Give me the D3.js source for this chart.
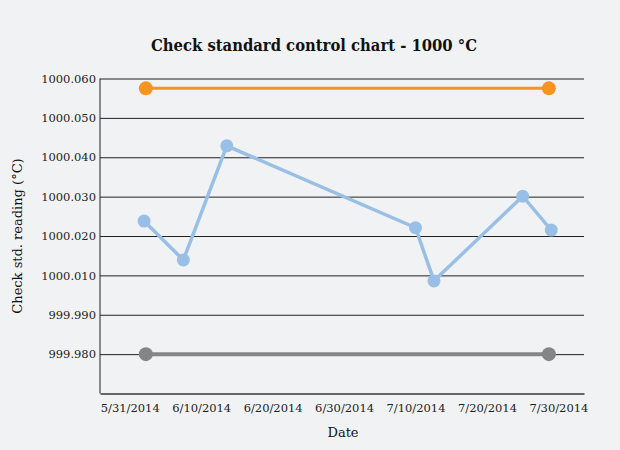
<!DOCTYPE html>
<html>
<head>
<meta charset="utf-8">
<script src="https://cdn.jsdelivr.net/npm/d3@7"></script>
<style>
  html, body { margin: 0; padding: 0; background: #f1f2f4; }
  svg { display: block; font-family: "DejaVu Serif", serif; }
</style>
</head>
<body>
<svg width="620" height="450"></svg>
<script>
// readings of the check standard
var readingDates = ["2014-06-02T00:00", "2014-06-07T12:00", "2014-06-13T14:00", "2014-07-10T00:00",
                    "2014-07-12T14:00", "2014-07-25T00:00", "2014-07-29T00:00"];
var readings = [1000.0238, 1000.0139, 1000.0429, 1000.0221, 1000.0086, 1000.0301, 1000.0215];

// control limits
var limitDates = ["2014-06-02T06:00", "2014-07-28T16:00"];
var upperLimit = [1000.0575, 1000.0575];
var lowerLimit = [999.990, 999.990];

// tick labels as printed on the chart
var yTickValues = [1000.06, 1000.05, 1000.04, 1000.03, 1000.02, 1000.01, 1000.00, 999.99];
var yTickLabels = ["1000.060", "1000.050", "1000.040", "1000.030", "1000.020", "1000.010", "999.990", "999.980"];
var xTickLabels = ["5/31/2014", "6/10/2014", "6/20/2014", "6/30/2014", "7/10/2014", "7/20/2014", "7/30/2014"];

(function () {
    var parseIso = d3.isoParse;
    var parseTick = d3.timeParse("%m/%d/%Y");

    var svg = d3.select("svg");
    var plotLeft = 100, plotRight = 584, plotTop = 78.5, plotBottom = 393.5;

    var x = d3.scaleTime()
        .domain([new Date(2014, 4, 26, 20), new Date(2014, 7, 2, 14)])
        .range([plotLeft, plotRight]);

    var y = d3.scaleLinear()
        .domain([999.98, 1000.06])
        .range([plotBottom, plotTop]);

    // title
    svg.append("text")
        .attr("x", 314)
        .attr("y", 51)
        .attr("text-anchor", "middle")
        .attr("font-family", "'DejaVu Serif Condensed', 'DejaVu Serif', serif")
        .attr("font-size", "17.5px")
        .attr("font-weight", "bold")
        .attr("textLength", 326)
        .attr("lengthAdjust", "spacingAndGlyphs")
        .attr("fill", "#111")
        .text("Check standard control chart - 1000 °C");

    // y axis with gridlines
    var yAxis = d3.axisLeft(y)
        .tickValues(yTickValues)
        .tickFormat(function (d, i) { return yTickLabels[i]; })
        .tickSize(-(plotRight - plotLeft))
        .tickPadding(4);

    var gy = svg.append("g")
        .attr("transform", "translate(" + plotLeft + ",0)")
        .call(yAxis);
    gy.selectAll(".tick line").attr("stroke", "#222").attr("stroke-width", 1);
    gy.selectAll(".tick text").attr("font-size", "11.5px").attr("fill", "#222").attr("font-family", "DejaVu Serif");
    gy.select(".domain").remove();
    gy.append("line")
        .attr("x1", 0).attr("x2", 0)
        .attr("y1", plotTop).attr("y2", plotBottom)
        .attr("stroke", "#222");

    // x axis
    var xAxis = d3.axisBottom(x)
        .tickValues(xTickLabels.map(parseTick))
        .tickFormat(function (d, i) { return xTickLabels[i]; })
        .tickSize(0)
        .tickPadding(10);

    var gx = svg.append("g")
        .attr("transform", "translate(0," + plotBottom + ")")
        .call(xAxis);
    gx.select(".domain").attr("stroke", "#666").attr("stroke-width", 2);
    gx.selectAll(".tick text").attr("font-size", "11.5px").attr("fill", "#222").attr("font-family", "DejaVu Serif");

    // axis titles
    svg.append("text")
        .attr("x", 343)
        .attr("y", 437)
        .attr("text-anchor", "middle")
        .attr("font-size", "13px")
        .attr("fill", "#111")
        .text("Date");

    svg.append("text")
        .attr("transform", "translate(22,236) rotate(-90)")
        .attr("text-anchor", "middle")
        .attr("font-size", "13px")
        .attr("fill", "#111")
        .text("Check std. reading (°C)");

    function series(dates, values, color, width, r) {
        var pts = dates.map(function (d, i) { return { date: parseIso(d), value: values[i] }; });
        var line = d3.line()
            .x(function (d) { return x(d.date); })
            .y(function (d) { return y(d.value); });
        svg.append("path")
            .datum(pts)
            .attr("d", line)
            .attr("fill", "none")
            .attr("stroke", color)
            .attr("stroke-width", width);
        svg.append("g")
            .selectAll("circle")
            .data(pts)
            .enter()
            .append("circle")
            .attr("cx", function (d) { return x(d.date); })
            .attr("cy", function (d) { return y(d.value); })
            .attr("r", r)
            .attr("fill", color);
    }

    series(limitDates, upperLimit, "#f7941d", 3, 7);
    series(limitDates, lowerLimit, "#858585", 4, 7);
    series(readingDates, readings, "#99bfe6", 3.5, 6.5);
})();
</script>
</body>
</html>
